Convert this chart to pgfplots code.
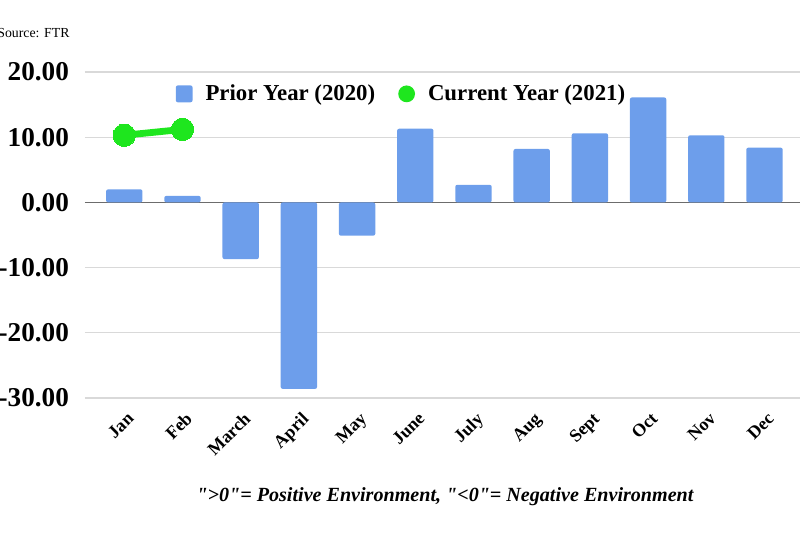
\documentclass[border=0pt]{standalone}
\usepackage{pgfplots}
\pgfplotsset{compat=1.18}
\usepackage{fontspec}
\setmainfont{Liberation Serif}
\definecolor{barblue}{HTML}{6D9EEB}
\definecolor{dotgreen}{HTML}{1EE61E}
\definecolor{gridgray}{HTML}{D9D9D9}
\begin{document}
\begin{tikzpicture}
\path[use as bounding box] (0,0) rectangle (400pt,-266pt);
\node[anchor=west, font=\fontsize{6.9}{7}\selectfont, inner sep=0pt] at (-1.5pt,-16.5pt) {Source: FTR};
\begin{axis}[
  at={(42.5pt,-199pt)}, anchor=south west,
  scale only axis, width=357.5pt, height=163pt,
  xmin=-0.675, xmax=11.61, ymin=-30, ymax=20,
  axis line style={draw=none},
  ytick={-30,-20,-10,0,10,20},
  ymajorgrids, grid style={gridgray, line width=0.6pt},
  xtick={0,...,11},
  xticklabels={Jan,Feb,March,April,May,June,July,Aug,Sept,Oct,Nov,Dec},
  xticklabel style={xshift=1pt, yshift=-5pt, rotate=45, anchor=north east, font=\fontsize{9}{10}\selectfont\bfseries, inner sep=1pt},
  yticklabel style={font=\fontsize{13.6}{14}\selectfont\bfseries, xshift=-4.5pt},
  /pgf/number format/assume math mode=true,
  yticklabel={\pgfmathprintnumber[fixed, fixed zerofill, precision=2]{\tick}},
  major tick length=0pt,
  clip=false,
  legend columns=2,
  legend style={draw=none, fill=none, at={(0.118,0.933)}, anchor=west,
    font=\fontsize{11.4}{12}\selectfont\bfseries,
    /tikz/every even column/.append style={column sep=9.5pt}},
]
\draw[gray!85!black, line width=0.9pt] (axis cs:-0.675,0) -- (axis cs:11.61,0);
\addplot[ybar, bar width=18.2pt, fill=barblue, draw=none, rounded corners=1pt,
  legend image code/.code={\path[fill=barblue, draw=none] (0pt,-4.2pt) rectangle (8.4pt,4.2pt);}]
  coordinates {(0,2.0) (1,1.0) (2,-8.7) (3,-28.6) (4,-5.1) (5,11.3) (6,2.7) (7,8.2) (8,10.6) (9,16.1) (10,10.3) (11,8.4)};
\addlegendentry{\hspace*{4.5pt}Prior Year (2020)}
\addplot[dotgreen, line width=3.4pt, mark=*, mark size=5.6pt, mark options={fill=dotgreen, draw=dotgreen, line width=0pt},
  legend image code/.code={\path[fill=dotgreen, draw=none] (4.2pt,0pt) circle[radius=4.2pt];}]
  coordinates {(0,10.3) (1,11.2)};
\addlegendentry{\hspace*{4.5pt}Current Year (2021)}
\end{axis}
\node[font=\fontsize{10.05}{12}\selectfont\bfseries\itshape, inner sep=0pt] at (222.5pt,-248.5pt) {\textquotedbl\textgreater0\textquotedbl= Positive Environment, \textquotedbl\textless0\textquotedbl= Negative Environment};
\end{tikzpicture}
\end{document}
